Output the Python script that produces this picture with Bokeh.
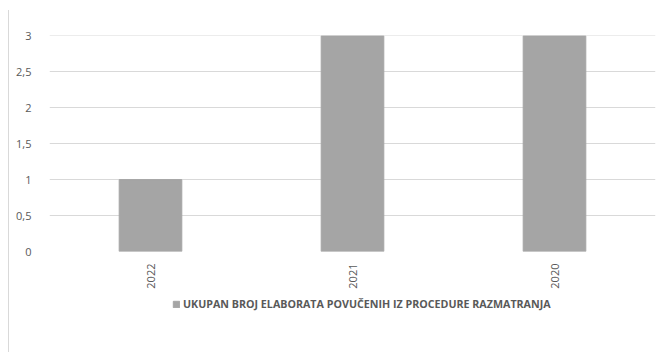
from bokeh.plotting import figure
from bokeh.models import Range1d, FixedTicker, Legend, LegendItem, ColumnDataSource, Spacer
from bokeh.layouts import column, row
from bokeh.embed import file_html
from bokeh.resources import INLINE
import math

years = ["2022", "2021", "2020"]
counts = [1, 3, 3]
y_ticks = [0, 0.5, 1, 1.5, 2, 2.5, 3]
y_tick_labels = ["0", "0,5", "1", "1,5", "2", "2,5", "3"]
series_name = "UKUPAN BROJ ELABORATA POVUČENIH IZ PROCEDURE RAZMATRANJA"

FONT = "Open Sans"
TXT = "#595959"
BAR = "#A5A5A5"
GRID = "#D9D9D9"
BORDER = {"border-left": "1px solid #D9D9D9"}

src = ColumnDataSource(dict(x=years, top=counts))

# main chart
p = figure(width=652, height=282, x_range=years, y_range=Range1d(0, 3.005),
           output_backend="svg", toolbar_location=None,
           min_border_left=40, min_border_right=6, min_border_top=25, min_border_bottom=41)
p.styles = BORDER

r = p.vbar(x="x", top="top", width=0.31, source=src, fill_color=BAR, line_color=BAR)

p.outline_line_color = None
p.xgrid.grid_line_color = None
p.ygrid.grid_line_color = GRID
p.ygrid.ticker = FixedTicker(ticks=y_ticks)

p.yaxis.ticker = FixedTicker(ticks=y_ticks)
p.yaxis.major_label_overrides = {t: l for t, l in zip(y_ticks, y_tick_labels)}
for ax in (p.xaxis, p.yaxis):
    ax.axis_line_color = None
    ax.major_tick_line_color = None
    ax.minor_tick_line_color = None
    ax.major_label_text_font = FONT
    ax.major_label_text_font_size = "11px"
    ax.major_label_text_color = TXT
p.yaxis.major_label_standoff = 12
p.xaxis.major_label_orientation = math.pi / 2
p.xaxis.major_label_standoff = 6
p.x_range.range_padding = 0

# legend strip below the chart (its swatch renderer sits outside the visible range)
lp = figure(width=652, height=60, x_range=Range1d(0, 1), y_range=Range1d(0, 1),
            x_axis_type=None, y_axis_type=None,
            output_backend="svg", toolbar_location=None,
            min_border_left=40, min_border_right=6, min_border_top=4, min_border_bottom=0)
lp.styles = BORDER
lp.outline_line_color = None
lp.grid.grid_line_color = None
lr = lp.vbar(x=[-10], top=[-10], bottom=[-11], width=0.31, fill_color=BAR, line_color=BAR)

legend = Legend(items=[LegendItem(label=series_name, renderers=[lr])],
                location=(123, 41), orientation="horizontal",
                background_fill_alpha=0, border_line_color=None,
                label_text_font=FONT, label_text_font_size="10.7px",
                label_text_font_style="bold", label_text_color=TXT,
                glyph_width=8, glyph_height=8, padding=0, margin=0,
                label_standoff=3)
lp.add_layout(legend, "center")

layout = column(Spacer(height=10), row(Spacer(width=8), column(p, lp)))
open("out.html", "w").write(file_html(layout, INLINE))
